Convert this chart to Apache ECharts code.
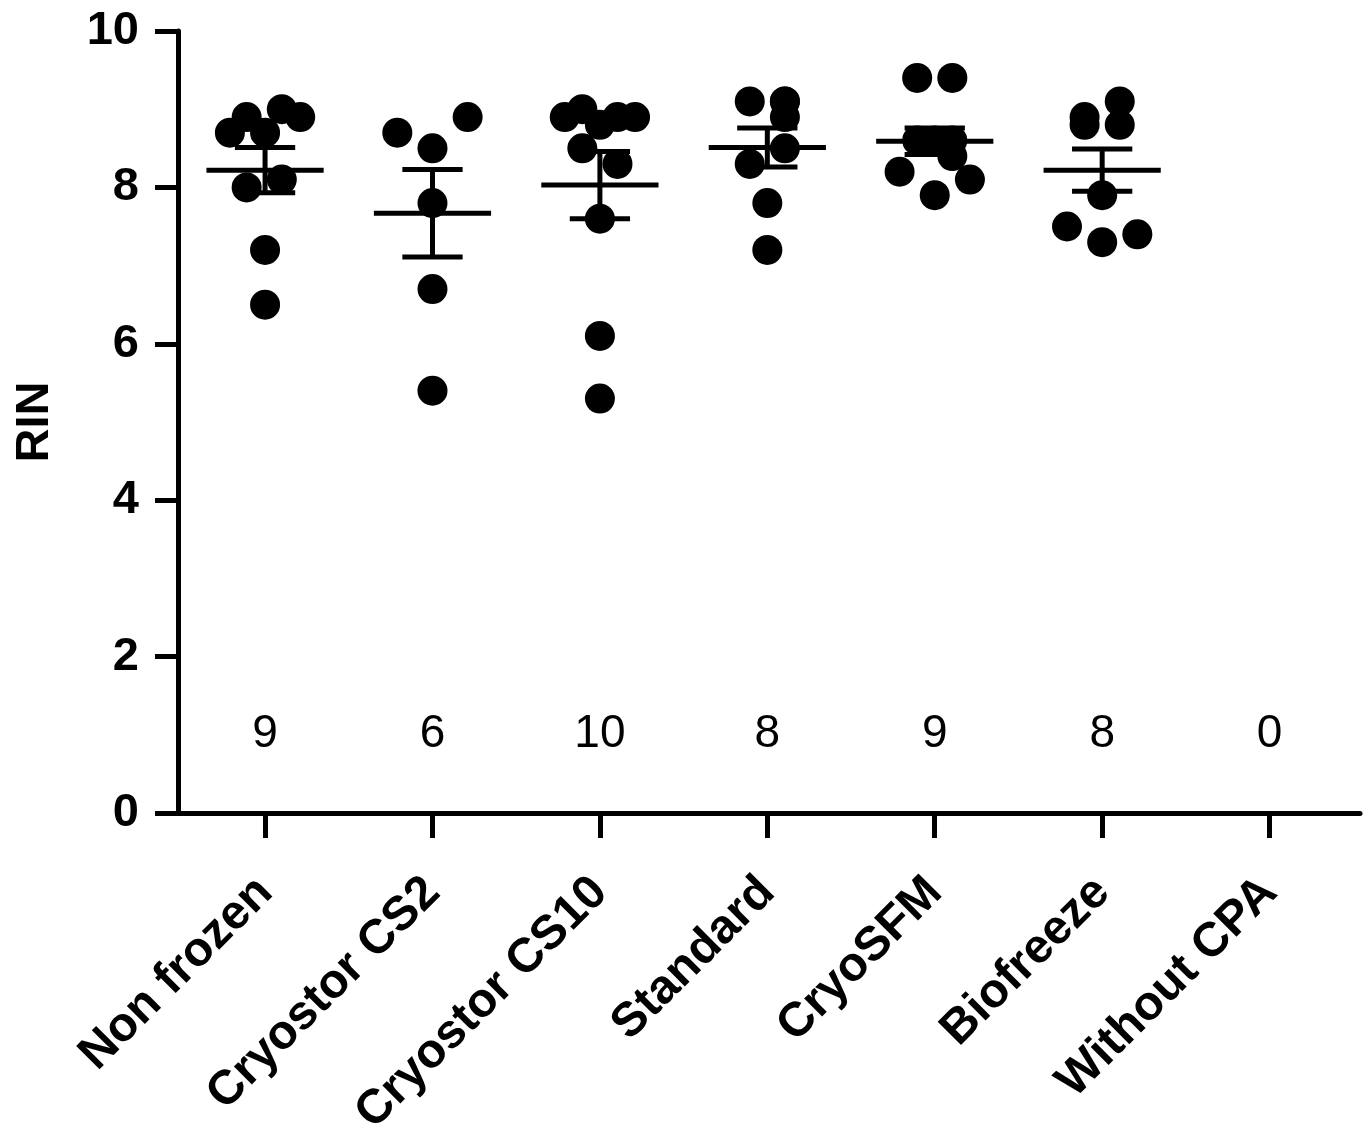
<!DOCTYPE html>
<html>
<head>
<meta charset="utf-8">
<title>RIN</title>
<script src="https://cdn.jsdelivr.net/npm/echarts@6/dist/echarts.min.js"></script>
<style>
  html, body { margin: 0; padding: 0; background: #fff; }
  #chart { width: 1365px; height: 1132px; }
</style>
</head>
<body>
<div id="chart"></div>
<script>
var categories = ['Non frozen', 'Cryostor CS2', 'Cryostor CS10', 'Standard', 'CryoSFM', 'Biofreeze', 'Without CPA'];
var nCounts = [9, 6, 10, 8, 9, 8, 0];
var yTicks = [0, 2, 4, 6, 8, 10];

// RIN per sample, jitter = horizontal spread inside the group (category units)
var nonFrozen    = [8.7, 8.9, 8.7, 9.0, 8.9, 8.0, 8.1, 7.2, 6.5];
var nonFrozenJit = [-0.21, -0.11, 0, 0.1, 0.21, -0.11, 0.1, 0, 0];
var cs2          = [8.7, 8.9, 8.5, 7.8, 6.7, 5.4];
var cs2Jit       = [-0.21, 0.21, 0, 0, 0, 0];
var cs10         = [8.9, 9.0, 8.8, 8.9, 8.9, 8.5, 8.3, 7.6, 6.1, 5.3];
var cs10Jit      = [-0.21, -0.105, 0, 0.105, 0.21, -0.105, 0.105, 0, 0, 0];
var standard     = [9.1, 9.1, 9.1, 8.9, 8.5, 8.3, 7.8, 7.2];
var standardJit  = [-0.105, 0.105, 0.105, 0.105, 0.105, -0.105, 0, 0];
var cryoSFM      = [9.4, 9.4, 8.6, 8.6, 8.6, 8.4, 8.2, 8.1, 7.9];
var cryoSFMJit   = [-0.105, 0.105, -0.105, 0, 0.105, 0.105, -0.21, 0.21, 0];
var biofreeze    = [9.1, 8.9, 8.8, 8.8, 7.9, 7.5, 7.3, 7.4];
var biofreezeJit = [0.105, -0.105, -0.105, 0.105, 0, -0.21, 0, 0.21];
var withoutCPA   = [];
var withoutCPAJit = [];

// mean and SEM as drawn
var meanVals = [8.22, 7.67, 8.03, 8.51, 8.59, 8.22, null];
var semVals  = [0.29, 0.56, 0.43, 0.25, 0.17, 0.27, null];

var groups = [
  [nonFrozen, nonFrozenJit], [cs2, cs2Jit], [cs10, cs10Jit], [standard, standardJit],
  [cryoSFM, cryoSFMJit], [biofreeze, biofreezeJit], [withoutCPA, withoutCPAJit]
];

var FONT = 'Arial, "Liberation Sans", sans-serif';
var catIdx = categories.map(function (c, i) { return i; });

function buildPoints() {
  var pts = [];
  groups.forEach(function (g, i) {
    g[0].forEach(function (v, k) {
      pts.push([i + g[1][k], v]);
    });
  });
  return pts;
}

function buildBars() {
  var out = [];
  meanVals.forEach(function (m, i) {
    if (m != null) out.push([i, m, semVals[i]]);
  });
  return out;
}

function renderBar(params, api) {
  var i = api.value(0), m = api.value(1), s = api.value(2);
  var c = api.coord([i, m]);
  var hi = api.coord([i, m + s])[1];
  var lo = api.coord([i, m - s])[1];
  var wl = api.coord([i - 0.35, m])[0], wr = api.coord([i + 0.35, m])[0];
  var cl = api.coord([i - 0.18, m])[0], cr = api.coord([i + 0.18, m])[0];
  var st = { stroke: '#000', lineWidth: 5 };
  return {
    type: 'group',
    children: [
      { type: 'line', shape: { x1: wl, y1: c[1], x2: wr, y2: c[1] }, style: st },
      { type: 'line', shape: { x1: c[0], y1: hi, x2: c[0], y2: lo }, style: st },
      { type: 'line', shape: { x1: cl, y1: hi, x2: cr, y2: hi }, style: st },
      { type: 'line', shape: { x1: cl, y1: lo, x2: cr, y2: lo }, style: st }
    ]
  };
}

var chart = echarts.init(document.getElementById('chart'));
var option = {
  backgroundColor: '#fff',
  animation: false,
  grid: { left: 178, right: 5, top: 31, bottom: 319, containLabel: false, outerBoundsMode: 'none' },
  xAxis: {
    type: 'value',
    min: -0.52,
    max: 6.54,
    splitLine: { show: false },
    axisLine: { show: true, onZero: false, lineStyle: { color: '#000', width: 5 } },
    axisTick: { show: true, customValues: catIdx, length: 25, lineStyle: { color: '#000', width: 5 } },
    axisLabel: {
      customValues: catIdx,
      rotate: 45,
      margin: 72,
      color: '#000',
      fontFamily: FONT,
      fontWeight: 'bold',
      fontSize: 48,
      formatter: function (v) { return categories[Math.round(v)]; }
    }
  },
  yAxis: {
    type: 'value',
    min: yTicks[0],
    max: yTicks[yTicks.length - 1],
    interval: 2,
    name: 'RIN',
    nameLocation: 'middle',
    nameGap: 119,
    nameTextStyle: { color: '#000', fontFamily: FONT, fontWeight: 'bold', fontSize: 47 },
    splitLine: { show: false },
    axisLine: { show: true, onZero: false, lineStyle: { color: '#000', width: 5 } },
    axisTick: { show: true, length: 23, lineStyle: { color: '#000', width: 5 } },
    axisLabel: { margin: 39, color: '#000', fontFamily: FONT, fontWeight: 'bold', fontSize: 47 }
  },
  series: [
    {
      type: 'scatter',
      data: buildPoints(),
      symbol: 'circle',
      symbolSize: 30,
      itemStyle: { color: '#000', opacity: 1 },
      z: 2
    },
    {
      type: 'custom',
      data: buildBars(),
      renderItem: renderBar,
      z: 3
    },
    {
      // group sizes written under each column
      type: 'scatter',
      data: catIdx.map(function (i) { return [i, 1]; }),
      symbolSize: 1,
      itemStyle: { color: 'rgba(0,0,0,0)', opacity: 1 },
      label: {
        show: true,
        position: 'inside',
        color: '#000',
        fontFamily: FONT,
        fontSize: 46,
        formatter: function (p) { return String(nCounts[p.dataIndex]); }
      },
      silent: true
    }
  ]
};
chart.setOption(option);
</script>
</body>
</html>
